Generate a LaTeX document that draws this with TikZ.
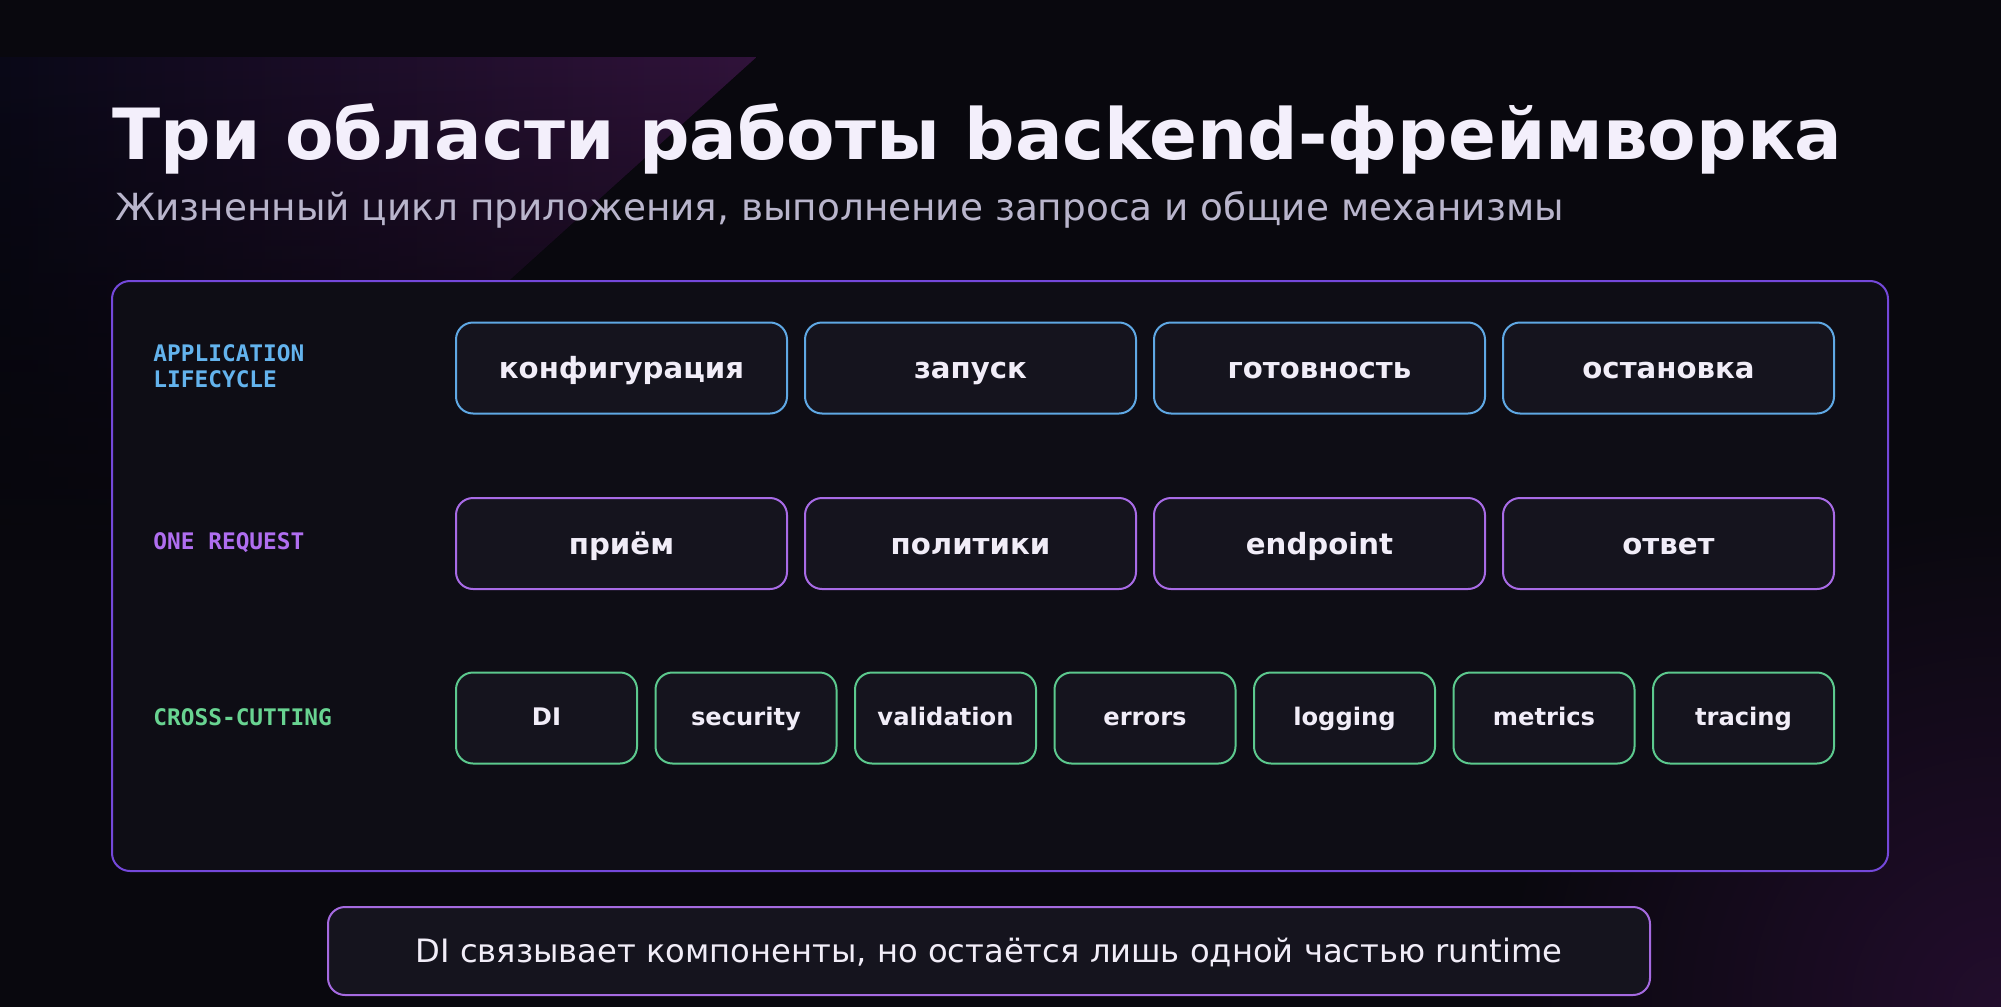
\documentclass[tikz,border=0pt]{standalone}
\usepackage{fontspec}
\setmainfont{DejaVu Sans}
\setmonofont{DejaVu Sans Mono}
\usepackage{tikz}
\usetikzlibrary{
    positioning,
    fadings
}

\definecolor{bgdark}{HTML}{09080E}
\definecolor{panelfill}{HTML}{0E0D15}
\definecolor{boxfill}{HTML}{15141E}
\definecolor{panelline}{HTML}{7448DA}
\definecolor{blueline}{HTML}{5FA8E4}
\definecolor{bluetxt}{HTML}{63B3ED}
\definecolor{purpline}{HTML}{A86BE6}
\definecolor{purptxt}{HTML}{B06EF0}
\definecolor{greenline}{HTML}{5CC98E}
\definecolor{greentxt}{HTML}{68D391}
\definecolor{titletxt}{HTML}{F3EFFB}
\definecolor{subtxt}{HTML}{B9B5CC}
\definecolor{boxtxt}{HTML}{F1EDF8}
\definecolor{footline}{HTML}{A56AE0}
\definecolor{glowa}{HTML}{0A0918}
\definecolor{glowb}{HTML}{1A1045}
\definecolor{glowc}{HTML}{31133B}
\definecolor{glowd}{HTML}{220D2C}

\tikzfading[name=fadedown, top color=transparent!0, bottom color=transparent!100]

\tikzset{
    stage/.style={draw, line width=1pt, rounded corners=8.5pt, fill=boxfill,
        minimum width=165.5pt, minimum height=45.5pt, inner sep=0pt, outer sep=0pt,
        text=boxtxt, text height=12.5pt, text depth=2pt,
        font=\fontsize{14.6}{18}\selectfont\bfseries},
    concern/.style={stage, draw=greenline, minimum width=90.5pt,
        text height=9.3pt, text depth=1.4pt,
        font=\fontsize{12.1}{14}\selectfont\bfseries},
    lane/.style={anchor=west, inner sep=0pt, align=left,
        font=\ttfamily\bfseries\fontsize{11.4}{13}\selectfont}
}

\begin{document}
\begin{tikzpicture}[x=0.5pt, y=-0.5pt]
    % background
    \useasboundingbox (0,0) rectangle (2001,1006);
    \fill[bgdark] (-10,-10) rectangle (2011,1016);
    \fill[left color=glowa, middle color=glowb, right color=glowc, path fading=fadedown]
        (0,57) -- (757,57) -- (200,560) -- (0,560) -- cycle;
    \begin{scope}
        \clip (-10,-10) rectangle (2011,1016);
        \shade[inner color=glowd, outer color=bgdark] (2001,1006) circle (500);
    \end{scope}

    % heading
    \node[anchor=base west, inner sep=0pt, text=titletxt,
        font=\fontsize{35.3}{40}\selectfont\bfseries] (title) at (112,159)
        {Три области работы backend-фреймворка};
    \node[anchor=base west, inner sep=0pt, text=subtxt,
        font=\fontsize{18.7}{22}\selectfont] (subtitle) at (115,220)
        {Жизненный цикл приложения, выполнение запроса и общие механизмы};

    % panel
    \node[draw=panelline, line width=1pt, fill=panelfill, rounded corners=9pt,
        minimum width=888pt, minimum height=295pt, inner sep=0pt] (board) at (1000,576) {};

    % application lifecycle
    \node[lane, text=bluetxt] (lifecycle) at (153,366) {APPLICATION\\LIFECYCLE};
    \node[stage, draw=blueline] (config) at (621.5,368) {конфигурация};
    \node[stage, draw=blueline, right=9pt of config] (start) {запуск};
    \node[stage, draw=blueline, right=9pt of start] (ready) {готовность};
    \node[stage, draw=blueline, right=9pt of ready] (stop) {остановка};

    % one request
    \node[lane, text=purptxt] (request) at (153,543) {ONE REQUEST};
    \node[stage, draw=purpline] (accept) at (621.5,543.5) {приём};
    \node[stage, draw=purpline, right=9pt of accept] (policies) {политики};
    \node[stage, draw=purpline, right=9pt of policies] (endpoint) {endpoint};
    \node[stage, draw=purpline, right=9pt of endpoint] (reply) {ответ};

    % cross-cutting
    \node[lane, text=greentxt] (crosscut) at (153,717) {CROSS-CUTTING};
    \node[concern] (di) at (546.5,718) {DI};
    \node[concern, right=9.25pt of di] (security) {security};
    \node[concern, right=9.25pt of security] (validation) {validation};
    \node[concern, right=9.25pt of validation] (errors) {errors};
    \node[concern, right=9.25pt of errors] (logging) {logging};
    \node[concern, right=9.25pt of logging] (metrics) {metrics};
    \node[concern, right=9.25pt of metrics] (tracing) {tracing};

    % takeaway
    \node[draw=footline, line width=1pt, fill=boxfill, rounded corners=8.5pt,
        minimum width=661pt, minimum height=44pt, inner sep=0pt, text=boxtxt,
        text height=12.5pt, text depth=0.8pt,
        font=\fontsize{16.1}{19}\selectfont] (takeaway) at (989,951)
        {DI связывает компоненты, но остаётся лишь одной частью runtime};
\end{tikzpicture}
\end{document}
